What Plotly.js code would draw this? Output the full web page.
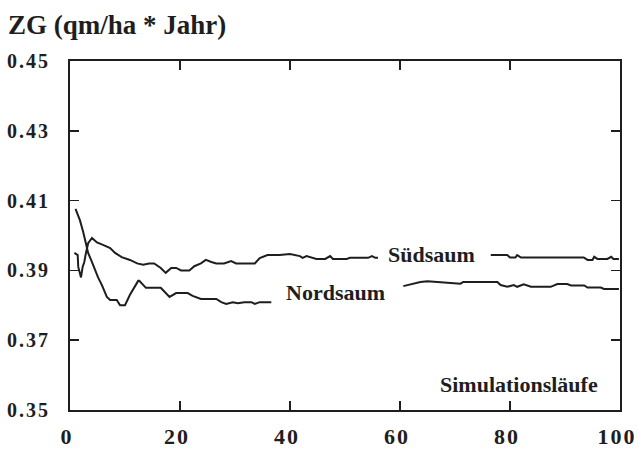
<!DOCTYPE html>
<html>
<head>
<meta charset="utf-8">
<script src="https://cdn.plot.ly/plotly-3.0.1.min.js"></script>
<style>
  html, body { margin: 0; padding: 0; background: #fff; }
  #chart { width: 638px; height: 449px; }
  .ytick text { letter-spacing: 2px; }
  .xtick text { letter-spacing: 2px; }
</style>
</head>
<body>
<div id="chart"></div>
<script>
// Simulation runs (x) and mean ZG values for the southern edge
const runsSued = [0.8, 1.4, 1.5, 2.0, 2.3, 2.6, 2.9, 3.3, 4.0, 4.9, 6.0, 7.3, 8.2, 9.4, 10.9, 12.2, 13.3,
  14.4, 15.3, 16.5, 17.4, 18.4, 19.3, 20.2, 21.7, 22.6, 23.8, 24.7, 25.7, 26.6, 28.0, 29.3, 30.2, 33.6,
  34.5, 35.9, 38.1, 40.0, 41.8, 42.3, 43.0, 43.9, 44.8, 46.4, 47.3, 47.8, 50.3, 50.9, 54.2, 54.9, 55.5,
  56.0, 66.0, 76.5, 79.5, 80.0, 81.0, 81.3, 82.0, 93.4, 94.1, 95.0, 95.3, 95.9, 97.7, 98.4, 98.8, 99.8];
const sued = [0.395, 0.3944, 0.391, 0.388, 0.391, 0.3924, 0.395, 0.3978, 0.3993, 0.398, 0.3973, 0.3964,
  0.395, 0.3938, 0.393, 0.392, 0.3916, 0.392, 0.392, 0.3907, 0.3893, 0.3907, 0.3907, 0.390, 0.390, 0.3912,
  0.392, 0.393, 0.3924, 0.392, 0.392, 0.3927, 0.392, 0.392, 0.3935, 0.3944, 0.3944, 0.3947, 0.3941,
  0.3936, 0.3941, 0.3936, 0.3933, 0.3933, 0.3941, 0.3933, 0.3933, 0.3936, 0.3936, 0.3941, 0.3936, 0.3936,
  null, 0.3944, 0.3944, 0.3937, 0.3937, 0.3944, 0.3937, 0.3937, 0.393, 0.393, 0.3939, 0.3933, 0.3933,
  0.3939, 0.3933, 0.3933];

// Simulation runs (x) and mean ZG values for the northern edge
const runsNord = [1.0, 1.8, 2.4, 2.9, 3.3, 4.0, 4.6, 5.1, 5.8, 6.7, 7.3, 8.5, 9.1, 10.0, 10.9, 11.9, 12.4,
  12.6, 13.8, 16.5, 17.4, 18.1, 19.3, 21.4, 22.3, 23.8, 26.6, 27.5, 28.4, 29.6, 30.5, 31.7, 33.0, 33.6,
  34.5, 36.6, 48.0, 60.6, 62.0, 63.7, 65.0, 71.0, 71.5, 77.7, 78.3, 79.5, 80.7, 81.3, 82.5, 83.8, 87.4,
  88.6, 90.4, 91.1, 93.5, 94.1, 96.5, 97.1, 99.8];
const nord = [0.4076, 0.4044, 0.401, 0.3978, 0.395, 0.3924, 0.390, 0.388, 0.3858, 0.3824, 0.3815, 0.3815,
  0.380, 0.380, 0.383, 0.3858, 0.387, 0.387, 0.385, 0.385, 0.3835, 0.3824, 0.3835, 0.3835, 0.3827, 0.3818,
  0.3818, 0.3809, 0.3804, 0.3809, 0.3806, 0.3809, 0.3809, 0.3804, 0.3809, 0.3809, null, 0.3855, 0.386,
  0.3867, 0.3869, 0.3862, 0.3867, 0.3867, 0.3858, 0.3853, 0.3858, 0.3853, 0.386, 0.3853, 0.3853, 0.3861,
  0.3861, 0.3857, 0.3857, 0.3851, 0.3851, 0.3847, 0.3847];

const xTicks = [0, 20, 40, 60, 80, 100];
const yTicks = [0.35, 0.37, 0.39, 0.41, 0.43, 0.45];
const yTickText = ['0.35', '0.37', '0.39', '0.41', '0.43', '0.45'];

const serif = "'Liberation Serif', 'Times New Roman', serif";
const ink = '#1e1e1e';

const traces = [
  { x: runsSued, y: sued, type: 'scatter', mode: 'lines', connectgaps: false,
    line: { color: ink, width: 2 }, hoverinfo: 'skip', name: 'Südsaum' },
  { x: runsNord, y: nord, type: 'scatter', mode: 'lines', connectgaps: false,
    line: { color: ink, width: 2 }, hoverinfo: 'skip', name: 'Nordsaum' }
];

const layout = {
  width: 638, height: 449,
  paper_bgcolor: '#fff', plot_bgcolor: '#fff',
  margin: { l: 70, r: 18, t: 61, b: 39 },
  showlegend: false,
  title: {
    text: '<b>ZG (qm/ha * Jahr)</b>',
    font: { family: serif, size: 27, color: ink },
    xref: 'container', x: 8 / 638, xanchor: 'left',
    yref: 'container', y: 1 - 25 / 449, yanchor: 'middle'
  },
  xaxis: {
    range: [0, 100], tickvals: xTicks, ticktext: xTicks.map(String),
    showline: true, linewidth: 2, linecolor: ink, mirror: 'ticks',
    ticks: 'inside', ticklen: 9, tickwidth: 1.5, tickcolor: ink,
    showgrid: false, zeroline: false,
    tickfont: { family: serif, size: 22, color: ink, weight: 'bold' },
    ticklabelstandoff: 6, ticklabelshift: -3, ticklabeloverflow: 'allow'
  },
  yaxis: {
    range: [0.35, 0.45], tickvals: yTicks, ticktext: yTickText,
    showline: true, linewidth: 2, linecolor: ink, mirror: 'ticks',
    ticks: 'inside', ticklen: 9, tickwidth: 1.5, tickcolor: ink,
    showgrid: false, zeroline: false,
    tickfont: { family: serif, size: 20, color: ink, weight: 'bold' },
    ticklabelstandoff: 14, ticklabeloverflow: 'allow'
  },
  annotations: [
    { text: '<b>Südsaum</b>', x: 65.8, y: 0.3945, xref: 'x', yref: 'y', showarrow: false,
      font: { family: serif, size: 22, color: ink } },
    { text: '<b>Nordsaum</b>', x: 48.2, y: 0.3838, xref: 'x', yref: 'y', showarrow: false,
      font: { family: serif, size: 22, color: ink } },
    { text: '<b>Simulationsläufe</b>', x: 81.6, y: 0.3572, xref: 'x', yref: 'y', showarrow: false,
      font: { family: serif, size: 22, color: ink } }
  ]
};

Plotly.newPlot('chart', traces, layout, { displayModeBar: false, staticPlot: true });
</script>
</body>
</html>
